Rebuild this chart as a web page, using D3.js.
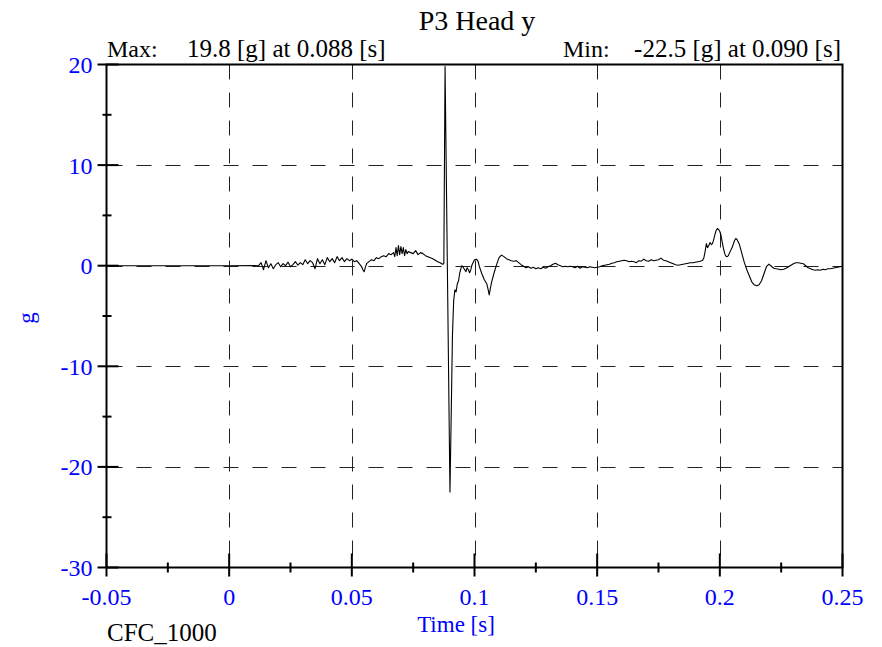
<!DOCTYPE html>
<html>
<head>
<meta charset="utf-8">
<script src="https://cdn.jsdelivr.net/npm/d3@7"></script>
<style>
  body { margin: 0; background: #fff; }
  svg { display: block; }
  text { font-family: "Liberation Serif", "Times New Roman", serif; }
</style>
</head>
<body>
<svg id="chart" width="882" height="647"></svg>
<script>
// ---- data ----
const title = "P3 Head y";
const filterLabel = "CFC_1000";
const xLabel = "Time [s]";
const yLabel = "g";
const maxLabel = ["Max:", "19.8 [g] at 0.088 [s]"];
const minLabel = ["Min:", "-22.5 [g] at 0.090 [s]"];
const xMajorTicks = [-0.05, 0, 0.05, 0.1, 0.15, 0.2, 0.25];
const xTickLabels = ["-0.05", "0", "0.05", "0.1", "0.15", "0.2", "0.25"];
const xMinorTicks = [-0.025, 0.025, 0.075, 0.125, 0.175, 0.225];
const yMajorTicks = [20, 10, 0, -10, -20, -30];
const yMinorTicks = [15, 5, -5, -15, -25];
const xGrid = [0, 0.05, 0.1, 0.15, 0.2];
const yGrid = [10, 0, -10, -20];

const time = [
 -0.05, 0.0, 0.010, 0.0115,
 0.012, 0.013, 0.014, 0.015, 0.016, 0.017, 0.018, 0.019, 0.020, 0.021,
 0.022, 0.023, 0.024, 0.025, 0.026, 0.027, 0.028, 0.029, 0.030, 0.031,
 0.032, 0.033, 0.034, 0.035, 0.036, 0.037, 0.038, 0.039, 0.040, 0.041,
 0.042, 0.043, 0.044, 0.045, 0.046, 0.047, 0.048, 0.049, 0.050, 0.051,
 0.052, 0.053, 0.054, 0.0545, 0.055, 0.0555, 0.056, 0.057, 0.058, 0.059,
 0.060, 0.061, 0.062, 0.063, 0.064, 0.065, 0.066, 0.067, 0.0675, 0.068,
 0.0685, 0.069, 0.0695, 0.070, 0.0705, 0.071, 0.0715, 0.072, 0.0725, 0.073,
 0.074, 0.075, 0.076, 0.077, 0.078, 0.079, 0.080, 0.081, 0.082, 0.083,
 0.084, 0.085, 0.086, 0.087, 0.0875, 0.088, 0.090, 0.0905, 0.091, 0.0915,
 0.092, 0.0925, 0.093, 0.0935, 0.094, 0.0948, 0.0955, 0.096, 0.0965, 0.097,
 0.0975, 0.098, 0.0985, 0.099, 0.100, 0.1008, 0.1015, 0.102, 0.103, 0.104,
 0.105, 0.1055, 0.106, 0.1065, 0.107, 0.108, 0.109, 0.110, 0.111, 0.112,
 0.113, 0.114, 0.115, 0.116, 0.117, 0.118, 0.119, 0.120, 0.121, 0.122,
 0.123, 0.124, 0.125, 0.126, 0.127, 0.128, 0.129, 0.130, 0.131, 0.132,
 0.133, 0.134, 0.135, 0.136, 0.137, 0.138, 0.139, 0.140, 0.141, 0.142,
 0.143, 0.144, 0.145, 0.146, 0.147, 0.148, 0.149, 0.150, 0.151, 0.152,
 0.153, 0.154, 0.155, 0.156, 0.157, 0.158, 0.159, 0.160, 0.161, 0.162,
 0.163, 0.164, 0.165, 0.166, 0.167, 0.168, 0.169, 0.170, 0.171, 0.172,
 0.173, 0.174, 0.175, 0.176, 0.177, 0.178, 0.179, 0.180, 0.181, 0.182,
 0.183, 0.184, 0.185, 0.186, 0.187, 0.188, 0.189, 0.190, 0.191, 0.192,
 0.193, 0.1935, 0.194, 0.1945, 0.195, 0.1955, 0.196, 0.1965, 0.197, 0.1975,
 0.198, 0.1985, 0.199, 0.1995, 0.200, 0.2005, 0.201, 0.2015, 0.202, 0.2025,
 0.203, 0.2035, 0.204, 0.205, 0.206, 0.2065, 0.207, 0.208, 0.209, 0.210,
 0.211, 0.212, 0.213, 0.214, 0.215, 0.216, 0.217, 0.218, 0.219, 0.220,
 0.221, 0.222, 0.223, 0.224, 0.225, 0.226, 0.227, 0.228, 0.229, 0.230,
 0.231, 0.232, 0.233, 0.234, 0.235, 0.236, 0.237, 0.238, 0.239, 0.240,
 0.241, 0.242, 0.243, 0.244, 0.245, 0.246, 0.247, 0.248, 0.249, 0.250
];
const accel = [
 0.0, 0.0, 0.02, 0.0,
 0.0, 0.3, -0.4, 0.5, -0.2, 0.2, -0.3, 0.1, 0.3, -0.1,
 0.2, 0.0, 0.35, -0.1, 0.1, 0.4, 0.05, 0.3, 0.1, 0.6,
 0.2, 0.5, 0.3, -0.3, 0.7, 0.2, 0.6, 0.1, 0.8, 0.4,
 0.7, 0.3, 0.9, 0.5, 0.8, 0.4, 0.7, 0.5, 0.65, 0.4,
 0.5, 0.2, -0.1, -0.4, -0.6, -0.2, 0.2, 0.4, 0.6, 0.5,
 0.8, 0.7, 0.9, 1.0, 0.9, 1.2, 1.1, 1.3, 0.9, 1.8,
 1.0, 2.0, 1.1, 1.9, 1.2, 1.8, 1.0, 1.6, 1.2, 1.4,
 1.3, 1.2, 1.5, 1.1, 1.3, 1.2, 1.0, 0.9, 0.8, 0.7,
 0.55, 0.4, 0.3, 0.15, 0.2, 19.8, -22.5, -15, -7, -3.5,
 -2.4, -2.6, -1.8, -1.5, -0.7, 0.0, -0.2, -0.4, -0.6, -0.2,
 -0.4, -0.7, -0.4, 0.1, 0.6, 0.65, 0.4, -0.1, -0.8, -1.4,
 -1.8, -2.3, -2.9, -2.2, -1.6, -0.7, 0.1, 0.8, 1.05, 0.9,
 0.7, 0.6, 0.5, 0.45, 0.5, 0.3, 0.1, -0.05, -0.2, -0.1,
 -0.25, -0.15, -0.3, -0.2, -0.3, -0.15, -0.25, -0.1, 0.0, 0.15,
 0.25, 0.1, 0.0, -0.1, -0.05, -0.1, -0.05, -0.1, -0.2, -0.05,
 -0.25, -0.1, -0.15, -0.2, -0.1, -0.15, -0.2, -0.15, -0.1, 0.0,
 0.05, 0.1, 0.15, 0.25, 0.3, 0.4, 0.45, 0.5, 0.55, 0.5,
 0.4, 0.45, 0.4, 0.3, 0.5, 0.45, 0.65, 0.5, 0.45, 0.6,
 0.5, 0.55, 0.6, 0.75, 0.55, 0.5, 0.4, 0.3, 0.2, 0.1,
 0.05, 0.1, 0.15, 0.2, 0.25, 0.3, 0.3, 0.35, 0.4, 0.45,
 0.55, 0.8, 1.4, 2.2, 1.8, 2.0, 2.3, 2.1, 2.2, 2.6,
 3.1, 3.5, 3.7, 3.6, 3.4, 3.0, 2.3, 1.7, 1.2, 0.95,
 0.9, 1.0, 1.3, 1.8, 2.5, 2.7, 2.6, 2.1, 1.2, 0.3,
 -0.4, -1.0, -1.6, -1.9, -2.0, -1.9, -1.5, -0.8, -0.1, 0.15,
 -0.05, -0.25, -0.3, -0.35, -0.4, -0.35, -0.25, -0.1, 0.05, 0.2,
 0.3, 0.3, 0.25, 0.2, 0.0, -0.2, -0.3, -0.4, -0.45, -0.4,
 -0.45, -0.35, -0.4, -0.3, -0.3, -0.25, -0.2, -0.15, -0.1, -0.05
];

// ---- drawing ----
const svg = d3.select("#chart");
const blue = "#0000ff";
const x = d3.scaleLinear().domain([-0.05, 0.25]).range([106.5, 842.5]);
const y = d3.scaleLinear().domain([-30, 20]).range([567.5, 64.5]);
const [x0, x1] = x.range();
const [yb, yt] = y.range();

// grid
svg.append("g").selectAll("line").data(xGrid).join("line")
  .attr("x1", d => Math.round(x(d)) + 0.5).attr("x2", d => Math.round(x(d)) + 0.5)
  .attr("y1", yt).attr("y2", yb)
  .attr("stroke", "#222").attr("stroke-width", 1).attr("stroke-dasharray", "15,13");
svg.append("g").selectAll("line").data(yGrid).join("line")
  .attr("x1", x0 + 1).attr("x2", x1)
  .attr("y1", d => Math.round(y(d)) + 0.5).attr("y2", d => Math.round(y(d)) + 0.5)
  .attr("stroke", "#222").attr("stroke-width", 1).attr("stroke-dasharray", "15,14");

// data line
const pts = time.map((t, i) => [t, accel[i]]);
svg.append("path").datum(pts)
  .attr("fill", "none").attr("stroke", "#000").attr("stroke-width", 1.1)
  .attr("stroke-linejoin", "round")
  .attr("d", d3.line().x(d => x(d[0])).y(d => y(d[1])));

// frame
svg.append("rect").attr("x", x0).attr("y", yt).attr("width", x1 - x0).attr("height", yb - yt)
  .attr("fill", "none").attr("stroke", "#000").attr("stroke-width", 2);

// y ticks
svg.append("g").selectAll("line").data(yMajorTicks).join("line")
  .attr("x1", x0 - 9).attr("x2", x0 + 12).attr("y1", d => y(d)).attr("y2", d => y(d))
  .attr("stroke", "#000").attr("stroke-width", 2);
svg.append("g").selectAll("line").data(yMinorTicks).join("line")
  .attr("x1", x0 - 4).attr("x2", x0 + 5).attr("y1", d => y(d)).attr("y2", d => y(d))
  .attr("stroke", "#000").attr("stroke-width", 2);
svg.append("g").selectAll("text").data(yMajorTicks).join("text")
  .attr("x", x0 - 14).attr("y", d => y(d) + 8.5)
  .attr("text-anchor", "end").attr("fill", blue).attr("font-size", 24)
  .text(d => d);

// x ticks
svg.append("g").selectAll("line").data(xMajorTicks).join("line")
  .attr("x1", d => x(d)).attr("x2", d => x(d)).attr("y1", yb - 14).attr("y2", yb + 9)
  .attr("stroke", "#000").attr("stroke-width", 2);
svg.append("g").selectAll("line").data(xMinorTicks).join("line")
  .attr("x1", d => x(d)).attr("x2", d => x(d)).attr("y1", yb - 5).attr("y2", yb + 5)
  .attr("stroke", "#000").attr("stroke-width", 2);
svg.append("g").selectAll("text").data(xMajorTicks).join("text")
  .attr("x", d => x(d)).attr("y", yb + 37)
  .attr("text-anchor", "middle").attr("fill", blue).attr("font-size", 24)
  .text((d, i) => xTickLabels[i]);

// labels
svg.append("text").attr("x", 477).attr("y", 30).attr("text-anchor", "middle")
  .attr("font-size", 28).attr("fill", "#000").text(title);
svg.append("text").attr("x", 107).attr("y", 57).attr("font-size", 24).text(maxLabel[0]);
svg.append("text").attr("x", 187).attr("y", 57).attr("font-size", 25).text(maxLabel[1]);
svg.append("text").attr("x", 563).attr("y", 57).attr("font-size", 24).text(minLabel[0]);
svg.append("text").attr("x", 841).attr("y", 57).attr("text-anchor", "end").attr("font-size", 25).text(minLabel[1]);
svg.append("text").attr("x", 456).attr("y", 632).attr("text-anchor", "middle")
  .attr("fill", blue).attr("font-size", 23).text(xLabel);
svg.append("text").attr("x", 107).attr("y", 641).attr("font-size", 25).text(filterLabel);
svg.append("text").attr("transform", "translate(34,318) rotate(-90)").attr("text-anchor", "middle")
  .attr("fill", blue).attr("font-size", 23).text(yLabel);
</script>
</body>
</html>
